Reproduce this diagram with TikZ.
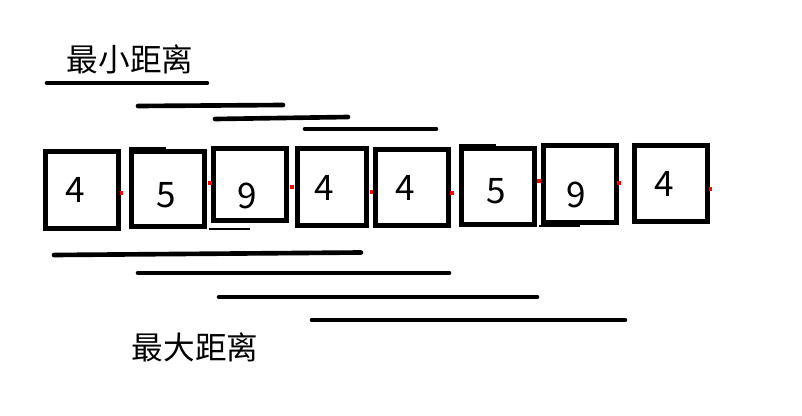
\documentclass[tikz,border=0pt]{standalone}
\usepackage{fontspec}
\setmainfont{Noto Sans CJK SC}
\newfontfamily\cjk{Noto Sans CJK SC}
\usetikzlibrary{positioning}

\begin{document}
\begin{tikzpicture}[x=0.025cm, y=-0.025cm,
        cell/.style={draw=black, line width=3.7pt},
        bar/.style={draw=black, line width=3.3pt, line cap=round},
        thinbar/.style={draw=black, line width=0.8pt},
        speck/.style={draw=red, line width=2.4pt}]
      \tikzstyle{digit} = [font=\fontsize{25}{29}\selectfont, inner sep=0pt]
      \tikzstyle{title} = [font=\cjk\fontsize{22.5}{26}\selectfont, inner sep=0pt]
      \useasboundingbox (0,0) rectangle (802,415);
      % the eight boxes
      \draw[cell] (45.5,151.5) rectangle (118.5,228.5);
      \draw[cell] (131.5,151.5) rectangle (204.5,226.5);
      \draw[cell] (213.5,148.5) rectangle (286.5,220.5);
      \draw[cell] (297.5,148.5) rectangle (366.5,225.5);
      \draw[cell] (375.5,149.5) rectangle (448.5,225.5);
      \draw[cell] (461.5,148.5) rectangle (534.5,224.5);
      \draw[cell] (543.5,145.5) rectangle (616.5,222.5);
      \draw[cell] (634.5,145.5) rectangle (707.5,221.5);
      \node (d1) [digit] at (75,189.5) {4};
      \node (d2) [digit] at (166,195) {5};
      \node (d3) [digit] at (247,196) {9};
      \node (d4) [digit] at (324,188) {4};
      \node (d5) [digit] at (405,188) {4};
      \node (d6) [digit] at (496,191.5) {5};
      \node (d7) [digit] at (576,194.5) {9};
      \node (d8) [digit] at (664,184) {4};
      % little red marks beside the boxes
      \draw[speck] (121.5,191) -- (121.5,195);
      \draw[speck] (210,181) -- (210,185);
      \draw[speck] (290,187) -- (294,187);
      \draw[speck] (371.5,190) -- (371.5,194);
      \draw[speck] (452,191) -- (452,195);
      \draw[speck] (539,179) -- (539,183);
      \draw[speck] (619,181) -- (619,185);
      \draw[speck] (710.5,187) -- (710.5,191);
      % stray strokes on the boxes
      \draw[thinbar] (129,148) -- (166,148);
      \draw[thinbar] (209,229) -- (250,229);
      \draw[thinbar] (459,145) -- (496,145);
      \draw[thinbar] (539,226) -- (580,226);
      % shortest spans
      \node (minlabel) [title] at (130,59) {最小距离};
      \draw[bar] (47,83) -- (207,83);
      \draw[bar] (138,106) -- (283,105);
      \draw[bar] (215,119) -- (348,117);
      \draw[bar] (305,129) -- (436,129);
      % longest spans
      \draw[bar] (54,255) -- (361,252.5);
      \draw[bar] (138,273) -- (449,273);
      \draw[bar] (219,297) -- (537,297);
      \draw[bar] (312,320) -- (625,320);
      \node (maxlabel) [title] at (195,347) {最大距离};
\end{tikzpicture}
\end{document}
